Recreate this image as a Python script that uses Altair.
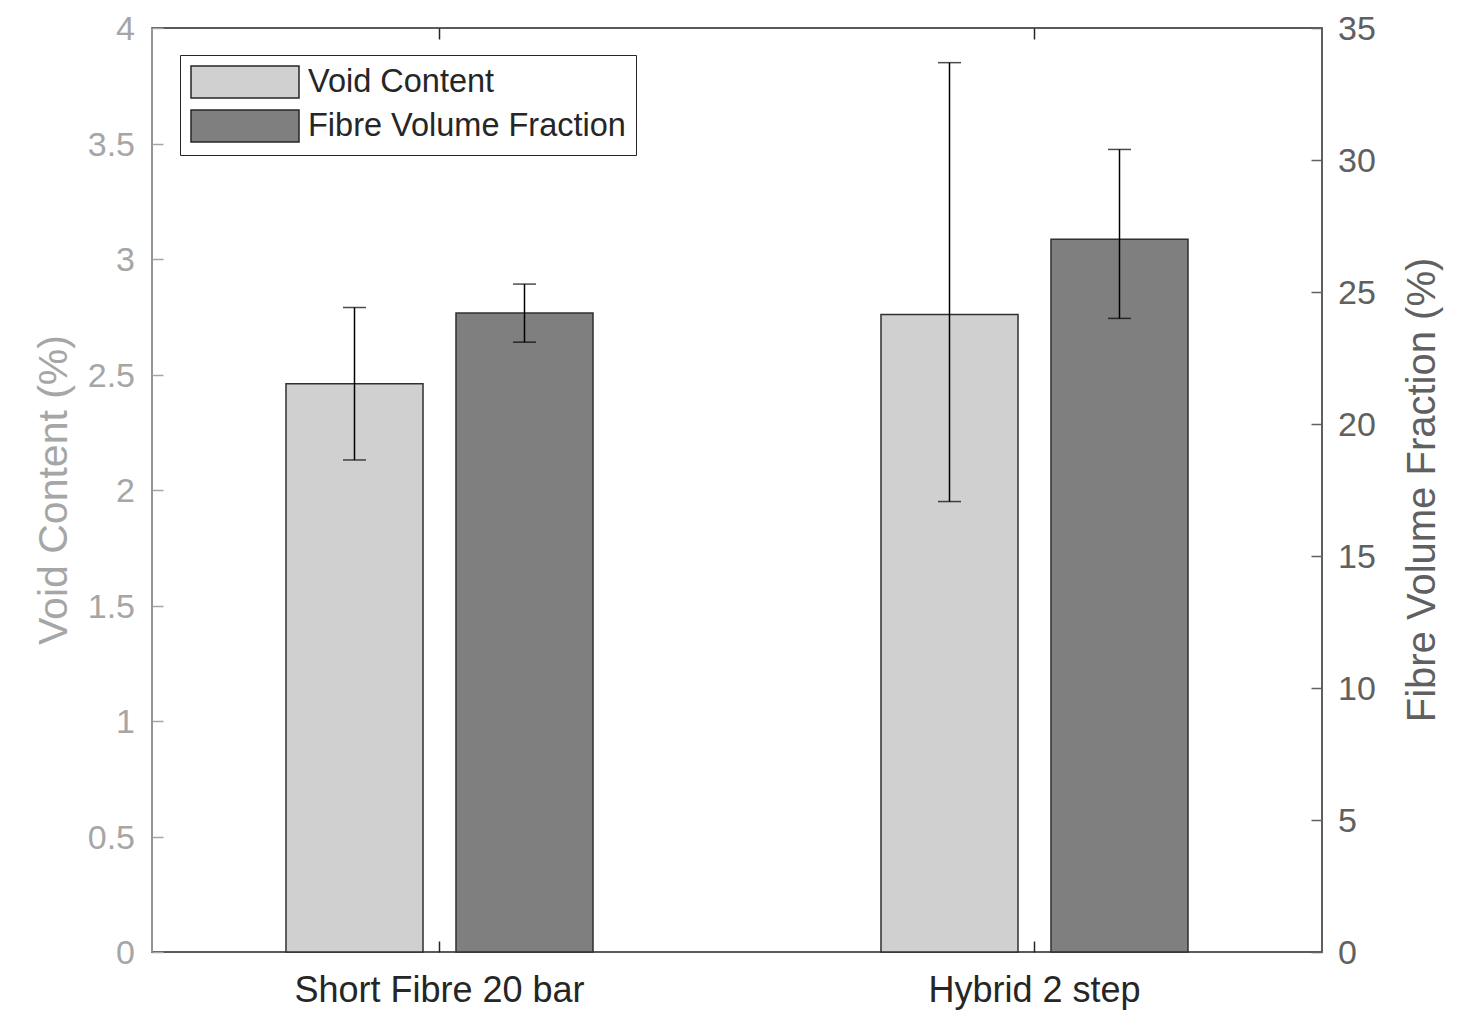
import altair as alt
import pandas as pd

categories = ["Short Fibre 20 bar", "Hybrid 2 step"]
series_names = ["Void Content", "Fibre Volume Fraction"]
series_colors = ["#d0d0d0", "#7f7f7f"]

void_mean = [2.46, 2.76]
void_lo = [2.13, 1.95]
void_hi = [2.79, 3.85]

fvf_mean = [24.2, 27.0]
fvf_lo = [23.1, 24.0]
fvf_hi = [25.3, 30.4]

void_ticks = [0, 0.5, 1, 1.5, 2, 2.5, 3, 3.5, 4]
fvf_ticks = [0, 5, 10, 15, 20, 25, 30, 35]

W, H = 1170, 924
FONT = "Liberation Sans"
LEFT_C = "#a6a6a6"
RIGHT_C = "#606060"
DARK = "#262626"

void_df = pd.DataFrame({"category": categories, "series": series_names[0],
                        "value": void_mean, "lo": void_lo, "hi": void_hi})
fvf_df = pd.DataFrame({"category": categories, "series": series_names[1],
                       "value": fvf_mean, "lo": fvf_lo, "hi": fvf_hi})

xscale = alt.Scale(type="band", domain=categories, paddingInner=0,
                   paddingOuter=0, range=[-10, W + 10])
offscale = alt.Scale(domain=series_names, paddingInner=0.194, paddingOuter=0.847)
void_y = alt.Scale(domain=[0, 4], nice=False, zero=True)
fvf_y = alt.Scale(domain=[0, 35], nice=False, zero=True)
cscale = alt.Scale(domain=series_names, range=series_colors)

legend = alt.Legend(
    title=None, orient="none", legendX=28, legendY=27,
    fillColor="white", strokeColor=DARK, padding=10,
    symbolType="M-3.375,-1L3.375,-1L3.375,1L-3.375,1Z", symbolSize=1024,
    symbolStrokeColor=DARK, symbolStrokeWidth=1.5, symbolOffset=38,
    labelOffset=46, labelFont=FONT, labelFontSize=32.5, labelColor=DARK,
    labelLimit=600, rowPadding=6,
)

def tick_axis(orient, color, values=None):
    kw = dict(orient=orient, offset=-11, domain=False, labels=False, ticks=True,
              tickSize=11, tickColor=color, tickWidth=1.5, grid=False, title=None,
              zindex=1)
    if values is not None:
        kw["values"] = values
    return alt.Axis(**kw)

x_bottom_labels = alt.Axis(orient="bottom", title=None, ticks=False, tickSize=0,
                           domain=False, labelAngle=0, labelFont=FONT,
                           labelFontSize=36, labelColor=DARK, labelPadding=21,
                           labelLimit=800, grid=False, zindex=1)

y_left_labels = alt.Axis(orient="left", values=void_ticks, format="~g",
                         ticks=False, tickSize=0, domain=True, domainColor=LEFT_C,
                         domainWidth=1.5, translate=0, labelFont=FONT,
                         labelFontSize=34, labelColor=LEFT_C, labelPadding=17,
                         labelOffset=2, grid=False, title="Void Content (%)",
                         titleFont=FONT, titleFontSize=41,
                         titleFontWeight="normal", titleColor=LEFT_C,
                         titlePadding=12, zindex=1)
y_right_labels = alt.Axis(orient="right", values=fvf_ticks, format="~g",
                          ticks=False, tickSize=0, domain=True, domainColor=RIGHT_C,
                          domainWidth=1.5, translate=0, labelFont=FONT,
                          labelFontSize=34, labelColor=RIGHT_C, labelPadding=16,
                          labelOffset=2, grid=False,
                          title="Fibre Volume Fraction (%)",
                          titleFont=FONT, titleFontSize=40,
                          titleFontWeight="normal", titleColor=RIGHT_C,
                          titleAngle=270, titleBaseline="top", titlePadding=27,
                          zindex=1)

xoff = alt.XOffset("series:N", scale=offscale)

void_bars = alt.Chart(void_df).mark_bar(stroke="#303030", strokeWidth=1.5).encode(
    x=alt.X("category:N", scale=xscale, axis=x_bottom_labels),
    xOffset=xoff,
    y=alt.Y("value:Q", scale=void_y, axis=y_left_labels),
    color=alt.Color("series:N", scale=cscale, legend=legend),
)
void_rule = alt.Chart(void_df).mark_rule(color="black", strokeWidth=1.5).encode(
    x=alt.X("category:N", scale=xscale, axis=tick_axis("bottom", DARK)),
    xOffset=xoff,
    y=alt.Y("lo:Q", scale=void_y, axis=tick_axis("left", LEFT_C, void_ticks)),
    y2="hi:Q",
)
void_caps = alt.Chart(void_df).transform_fold(["lo", "hi"], as_=["end", "v"]).mark_tick(
    color="black", thickness=1.5, size=23, orient="horizontal").encode(
    x=alt.X("category:N", scale=xscale, axis=None),
    xOffset=xoff,
    y=alt.Y("v:Q", scale=void_y, axis=None),
)

fvf_bars = alt.Chart(fvf_df).mark_bar(stroke="#303030", strokeWidth=1.5).encode(
    x=alt.X("category:N", scale=xscale, axis=tick_axis("top", DARK)),
    xOffset=xoff,
    y=alt.Y("value:Q", scale=fvf_y, axis=y_right_labels),
    color=alt.Color("series:N", scale=cscale, legend=legend),
)
fvf_rule = alt.Chart(fvf_df).mark_rule(color="black", strokeWidth=1.5).encode(
    x=alt.X("category:N", scale=xscale, axis=None),
    xOffset=xoff,
    y=alt.Y("lo:Q", scale=fvf_y, axis=tick_axis("right", RIGHT_C, fvf_ticks)),
    y2="hi:Q",
)
fvf_caps = alt.Chart(fvf_df).transform_fold(["lo", "hi"], as_=["end", "v"]).mark_tick(
    color="black", thickness=1.5, size=23, orient="horizontal").encode(
    x=alt.X("category:N", scale=xscale, axis=None),
    xOffset=xoff,
    y=alt.Y("v:Q", scale=fvf_y, axis=None),
)

chart = alt.layer(void_bars, void_rule, void_caps, fvf_bars, fvf_rule, fvf_caps).resolve_scale(
    y="independent"
).resolve_axis(
    x="independent", y="independent"
).properties(
    width=W, height=H,
    autosize=alt.AutoSizeParams(type="none"),
    padding={"left": 144, "top": 20, "right": 130, "bottom": 60},
    background="white",
).configure_view(stroke=DARK, strokeWidth=1.5)

chart.save("out.html", embed_options={"renderer": "svg", "actions": False})
